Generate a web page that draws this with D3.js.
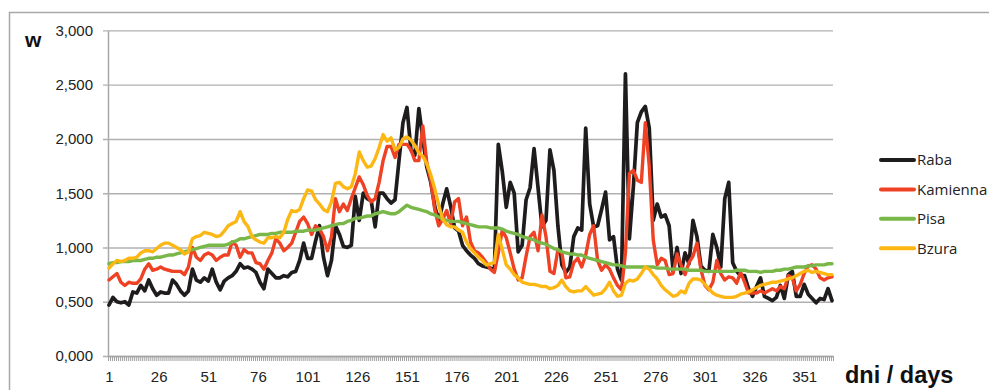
<!DOCTYPE html>
<html>
<head>
<meta charset="utf-8">
<script src="https://cdn.jsdelivr.net/npm/d3@7"></script>
<style>
  body { margin: 0; background: #fff; }
  svg { display: block; font-family: "Open Sans", sans-serif; }
</style>
</head>
<body>
<svg id="chart" width="989" height="390"></svg>
<script>
// days sampled every second day (1, 3, ... 365)
const days = d3.range(1, 366, 2);
const xLabels = [1, 26, 51, 76, 101, 126, 151, 176, 201, 226, 251, 276, 301, 326, 351];
const yTicks = [0, 0.5, 1, 1.5, 2, 2.5, 3];
const seriesNames = ["Raba", "Kamienna", "Pisa", "Bzura"];
const seriesColors = ["#1e1c1d", "#ef4123", "#79b748", "#fdb714"];

const raba = [
  0.47,0.54,0.50,0.49,0.50,0.47,0.59,0.58,0.65,0.60,
  0.70,0.62,0.56,0.59,0.58,0.58,0.70,0.66,0.60,0.56,
  0.60,0.80,0.70,0.68,0.72,0.69,0.80,0.68,0.61,0.69,
  0.72,0.74,0.78,0.85,0.81,0.82,0.80,0.77,0.68,0.62,
  0.80,0.76,0.72,0.72,0.74,0.73,0.77,0.78,0.88,1.04,
  0.90,0.90,1.06,1.20,0.91,0.74,0.88,1.20,1.12,1.01,
  1.00,1.02,1.47,1.25,1.50,1.45,1.43,1.19,1.50,1.50,
  1.45,1.41,1.44,1.80,2.15,2.29,1.90,1.85,2.28,2.00,
  1.74,1.60,1.38,1.24,1.40,1.54,1.38,1.18,1.15,1.02,
  0.97,0.93,0.90,0.85,0.83,0.82,0.81,0.79,1.95,1.70,
  1.37,1.60,1.50,0.96,1.02,1.44,1.55,1.91,1.55,1.19,
  1.25,1.90,1.71,1.20,0.84,0.77,0.82,1.10,1.18,1.16,
  2.10,1.40,1.19,1.20,1.35,1.51,1.07,1.10,0.80,0.70,
  2.60,1.08,1.56,2.15,2.25,2.30,2.10,1.25,1.40,1.28,
  1.30,1.20,0.78,1.00,0.76,0.95,0.85,1.25,1.10,0.83,
  0.79,0.78,1.12,1.00,0.82,1.45,1.60,0.86,0.78,0.74,
  0.74,0.62,0.55,0.64,0.72,0.55,0.53,0.51,0.54,0.65,
  0.53,0.75,0.78,0.55,0.55,0.66,0.57,0.53,0.49,0.53,
  0.52,0.62,0.51
];
const kamienna = [
  0.70,0.73,0.76,0.68,0.65,0.68,0.67,0.67,0.71,0.80,
  0.85,0.79,0.80,0.82,0.80,0.79,0.78,0.78,0.78,0.75,
  0.82,1.00,0.91,0.88,0.93,0.95,0.93,0.88,0.91,0.93,
  0.93,1.05,1.02,0.91,0.98,0.95,0.95,0.86,0.85,0.80,
  0.88,0.95,1.08,1.04,0.97,1.00,1.04,1.14,1.24,1.28,
  1.22,1.12,1.20,1.17,1.10,0.97,1.10,1.45,1.33,1.40,
  1.34,1.45,1.55,1.65,1.58,1.48,1.42,1.45,1.60,1.80,
  1.93,1.93,1.83,1.95,1.95,1.95,1.90,1.80,1.80,2.12,
  1.78,1.62,1.35,1.20,1.26,1.34,1.22,1.42,1.45,1.20,
  1.28,1.05,0.97,0.95,0.91,0.86,0.80,0.77,0.95,1.16,
  1.09,0.95,0.80,0.70,0.72,0.92,1.10,1.14,0.97,1.30,
  1.10,0.78,0.76,0.98,0.95,0.72,0.73,0.86,0.90,0.82,
  0.93,1.12,1.20,0.88,0.79,0.84,0.80,0.72,0.65,0.61,
  0.95,1.68,1.71,1.62,1.60,2.15,1.75,1.07,0.84,0.90,
  0.88,0.75,0.76,0.94,0.84,0.75,0.86,0.92,1.04,0.80,
  0.65,0.61,0.68,0.88,0.76,0.70,0.73,0.72,0.67,0.77,
  0.68,0.58,0.58,0.58,0.60,0.58,0.60,0.62,0.60,0.64,
  0.62,0.74,0.72,0.60,0.66,0.76,0.83,0.84,0.80,0.72,
  0.70,0.72,0.73
];
const pisa = [
  0.85,0.86,0.86,0.87,0.87,0.87,0.88,0.88,0.88,0.89,
  0.90,0.90,0.91,0.91,0.92,0.93,0.93,0.94,0.95,0.96,
  0.97,0.98,0.99,1.00,1.01,1.02,1.02,1.02,1.02,1.02,
  1.03,1.05,1.06,1.08,1.08,1.09,1.10,1.11,1.12,1.12,
  1.12,1.13,1.13,1.14,1.14,1.14,1.14,1.15,1.15,1.15,
  1.16,1.16,1.16,1.17,1.18,1.19,1.20,1.21,1.22,1.22,
  1.24,1.25,1.27,1.27,1.28,1.29,1.29,1.31,1.32,1.33,
  1.32,1.31,1.31,1.33,1.36,1.39,1.37,1.36,1.35,1.34,
  1.33,1.31,1.30,1.28,1.26,1.25,1.24,1.24,1.24,1.23,
  1.22,1.21,1.20,1.19,1.19,1.19,1.18,1.18,1.18,1.17,
  1.15,1.14,1.13,1.12,1.10,1.09,1.08,1.07,1.05,1.04,
  1.03,1.01,0.99,0.98,0.96,0.95,0.94,0.94,0.93,0.93,
  0.91,0.90,0.89,0.88,0.87,0.86,0.85,0.84,0.84,0.83,
  0.82,0.82,0.82,0.82,0.82,0.82,0.82,0.82,0.81,0.81,
  0.81,0.80,0.80,0.80,0.80,0.80,0.79,0.79,0.79,0.79,
  0.78,0.78,0.78,0.78,0.78,0.78,0.78,0.78,0.79,0.79,
  0.79,0.78,0.78,0.78,0.77,0.78,0.78,0.78,0.79,0.79,
  0.80,0.80,0.81,0.82,0.82,0.82,0.83,0.83,0.84,0.84,
  0.84,0.85,0.85
];
const bzura = [
  0.81,0.85,0.88,0.87,0.88,0.90,0.90,0.91,0.95,0.97,
  0.97,0.96,0.99,1.02,1.04,1.04,1.02,1.00,0.98,0.94,
  0.96,1.08,1.10,1.11,1.14,1.13,1.12,1.10,1.11,1.15,
  1.20,1.22,1.24,1.33,1.24,1.19,1.10,1.07,1.05,1.04,
  1.09,1.09,1.10,1.09,1.14,1.26,1.34,1.33,1.35,1.45,
  1.53,1.52,1.44,1.40,1.35,1.33,1.42,1.59,1.60,1.56,
  1.54,1.56,1.68,1.88,1.80,1.74,1.75,1.82,1.92,2.04,
  1.98,2.01,1.90,1.92,2.00,2.02,1.99,1.94,1.87,1.84,
  1.77,1.67,1.54,1.39,1.26,1.21,1.19,1.19,1.16,1.14,
  1.05,0.99,0.95,0.91,0.88,0.84,0.85,0.86,1.12,0.98,
  0.84,0.80,0.75,0.72,0.68,0.67,0.66,0.66,0.65,0.64,
  0.64,0.62,0.63,0.65,0.70,0.64,0.60,0.59,0.60,0.60,
  0.64,0.60,0.56,0.57,0.58,0.62,0.68,0.60,0.55,0.56,
  0.67,0.70,0.69,0.71,0.76,0.82,0.80,0.75,0.71,0.65,
  0.61,0.58,0.55,0.56,0.60,0.58,0.67,0.71,0.71,0.70,
  0.66,0.62,0.58,0.56,0.55,0.54,0.54,0.54,0.55,0.57,
  0.58,0.59,0.61,0.63,0.65,0.66,0.67,0.68,0.68,0.69,
  0.70,0.71,0.72,0.74,0.76,0.78,0.79,0.77,0.78,0.77,
  0.76,0.75,0.75
];
const seriesValues = [raba, kamienna, pisa, bzura];

const svg = d3.select("#chart");
const plot = { left: 108, right: 833, top: 30.4, bottom: 356 };

// outer frame
svg.append("rect")
  .attr("x", 9.5).attr("y", 12.5)
  .attr("width", 1000).attr("height", 400)
  .attr("fill", "none")
  .attr("stroke", "#a8a8a8")
  .attr("stroke-width", 1.5);

const x = d3.scaleLinear().domain([0.5, 365.5]).range([plot.left, plot.right]);
const y = d3.scaleLinear().domain([0, 3]).range([plot.bottom, plot.top]);

const fmt = d => d3.format(".3f")(d).replace(".", ",");

// y axis with gridlines (gridlines stick out 5px to the left as ticks)
const yAxis = svg.append("g")
  .attr("transform", "translate(" + plot.left + ",0)")
  .call(d3.axisLeft(y).tickValues(yTicks).tickSize(-(plot.right - plot.left)).tickSizeOuter(0).tickPadding(15).tickFormat(fmt));
yAxis.select(".domain").attr("stroke", "#a8a8a8").attr("stroke-width", 1.5);
yAxis.selectAll(".tick line")
  .attr("x1", -5)
  .attr("stroke", "#b0b0b0").attr("stroke-width", 1.4);
yAxis.selectAll(".tick text")
  .attr("fill", "#222")
  .style("font-size", "15px");

// x axis: one tick per category boundary
const xAxis = svg.append("g")
  .attr("transform", "translate(0," + plot.bottom + ")")
  .call(d3.axisBottom(x).tickValues(d3.range(0.5, 366, 1)).tickSize(5).tickSizeOuter(0).tickFormat(""));
xAxis.select(".domain").attr("stroke", "#a8a8a8").attr("stroke-width", 1.5);
xAxis.selectAll(".tick line").attr("stroke", "#a0a0a0").attr("stroke-width", 1);

const xLab = svg.append("g")
  .attr("transform", "translate(0," + plot.bottom + ")")
  .call(d3.axisBottom(x).tickValues(xLabels).tickSize(0).tickPadding(15.5));
xLab.select(".domain").remove();
xLab.selectAll(".tick text")
  .attr("fill", "#222")
  .style("font-size", "15px");

// series lines
const line = d3.line()
  .x((d, i) => x(days[i]))
  .y(d => y(d));

seriesValues.forEach((vals, k) => {
  svg.append("path")
    .datum(vals)
    .attr("fill", "none")
    .attr("stroke", seriesColors[k])
    .attr("stroke-width", k === 0 ? 3.7 : 3.4)
    .attr("stroke-linejoin", "round")
    .attr("stroke-linecap", "round")
    .attr("d", line);
});

// axis titles
svg.append("text")
  .attr("x", 25).attr("y", 47)
  .style("font-family", "'Liberation Sans', Arial, sans-serif")
  .style("font-weight", "bold")
  .style("font-size", "21px")
  .attr("fill", "#111")
  .text("w");

svg.append("text")
  .attr("x", 845).attr("y", 383)
  .style("font-family", "'Liberation Sans', Arial, sans-serif")
  .style("font-weight", "bold")
  .style("font-size", "23.5px")
  .attr("fill", "#111")
  .text("dni / days");

// legend
const legend = svg.append("g");
seriesNames.forEach((name, k) => {
  const ly = 160 + k * 29.4;
  legend.append("line")
    .attr("x1", 881).attr("x2", 914)
    .attr("y1", ly).attr("y2", ly)
    .attr("stroke", seriesColors[k])
    .attr("stroke-width", 4)
    .attr("stroke-linecap", "round");
  legend.append("text")
    .attr("x", 917).attr("y", ly)
    .attr("dy", "0.36em")
    .attr("fill", "#222")
    .style("font-size", "15px")
    .text(name);
});
</script>
</body>
</html>
